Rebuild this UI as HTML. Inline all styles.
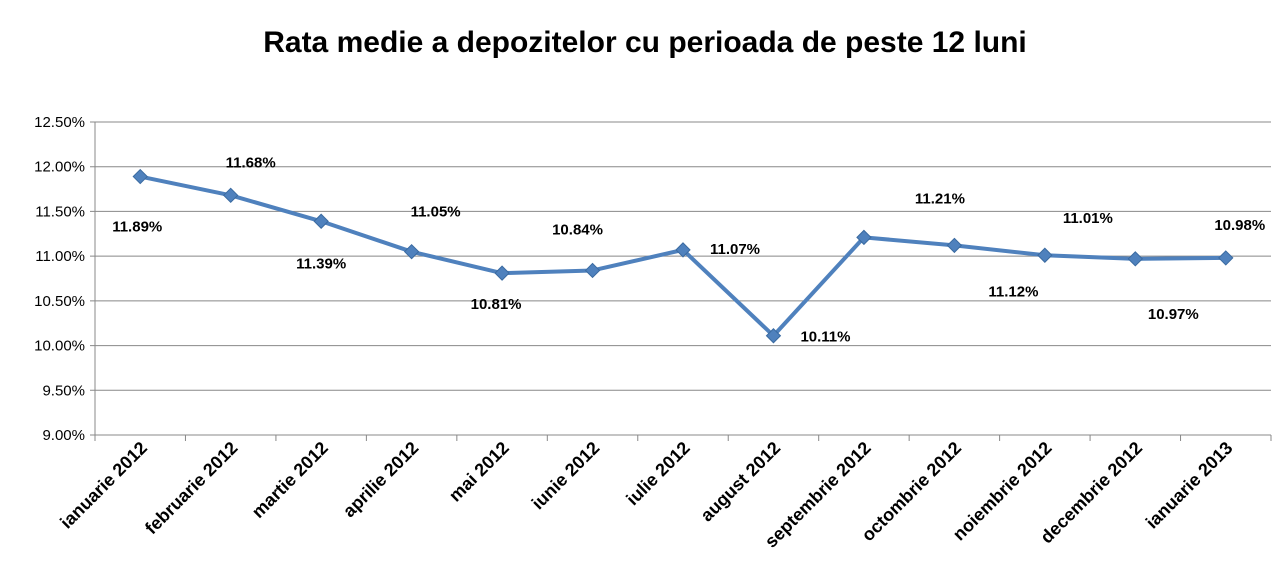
<!DOCTYPE html>
<html><head><meta charset="utf-8"><style>
body{margin:0;background:#fff;}
svg{display:block;font-family:"Liberation Sans",Arial,sans-serif;}
</style></head><body>
<svg width="1285" height="587">
<text x="645" y="52" text-anchor="middle" font-size="30" font-weight="bold" fill="#000">Rata medie a depozitelor cu perioada de peste 12 luni</text>
<g id="grid"></g><g id="axes"></g><g id="series"></g><g id="labels"></g>
</svg>
<script>
const categories=["ianuarie 2012","februarie 2012","martie 2012","aprilie 2012","mai 2012","iunie 2012","iulie 2012","august 2012","septembrie 2012","octombrie 2012","noiembrie 2012","decembrie 2012","ianuarie 2013"];
const values=[11.89,11.68,11.39,11.05,10.81,10.84,11.07,10.11,11.21,11.12,11.01,10.97,10.98];
const yTicks=[9.0,9.5,10.0,10.5,11.0,11.5,12.0,12.5];
const labelOffsets=[[-3,50],[20,-33],[0,42],[24,-40],[-6,31],[-15,-41],[52,-1],[52,1],[76,-39],[59,46],[43,-37],[38,55],[14,-33]];
const NS="http://www.w3.org/2000/svg";
const L=95,R=1271,T=122,B=435,yMin=9,yMax=12.5;
const x=i=>L+(R-L)/categories.length*(i+0.5);
const y=v=>B-(v-yMin)/(yMax-yMin)*(B-T);
function mk(t,a,p){const e=document.createElementNS(NS,t);for(const k in a)e.setAttribute(k,a[k]);p.appendChild(e);return e;}
const g=document.getElementById('grid'),ax=document.getElementById('axes'),s=document.getElementById('series'),lb=document.getElementById('labels');
yTicks.forEach(v=>{
 const l=mk('line',{x1:L-5,x2:R,y1:y(v),y2:y(v),stroke:'#888','stroke-width':1},g);
 
 
 const t=mk('text',{x:L-10,y:y(v)+5,'text-anchor':'end','font-size':15,fill:'#000'},ax);
 t.textContent=v.toFixed(2)+'%';
 
 
});
const yl=mk('line',{x1:L,x2:L,y1:T,y2:B,stroke:'#888'},ax);


for(let i=0;i<=categories.length;i++){
 const xx=L+(R-L)/categories.length*i;
 const tk=mk('line',{x1:xx,x2:xx,y1:B,y2:B+6,stroke:'#888'},ax);
 
 
}
categories.forEach((c,i)=>{
 const t=mk('text',{x:x(i)+8,y:B+14,'text-anchor':'end','font-size':18,'font-weight':'bold',fill:'#000',transform:`rotate(-45 ${x(i)+8} ${B+14})`},ax);
 t.textContent=c;
 
 
});
const pl=mk('polyline',{points:values.map((v,i)=>x(i)+','+y(v)).join(' '),fill:'none',stroke:'#4f81bd','stroke-width':4,'stroke-linejoin':'round'},s);


values.forEach((v,i)=>{
 const cx=x(i),cy=y(v);
 const p=mk('polygon',{points:`${cx},${cy-7} ${cx+7},${cy} ${cx},${cy+7} ${cx-7},${cy}`,fill:'#4f81bd',stroke:'#3a6aa0','stroke-width':1},s);
 
 
 const o=labelOffsets[i];
 const t=mk('text',{x:cx+o[0],y:cy+o[1]+5,'text-anchor':'middle','font-size':15,'font-weight':'bold',fill:'#000'},lb);
 t.textContent=v.toFixed(2)+'%';
 
 
});
</script>
</body></html>
